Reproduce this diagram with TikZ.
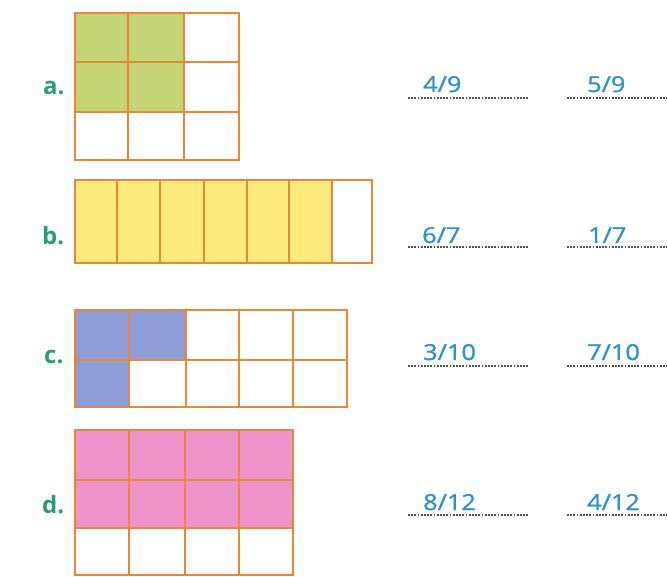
\documentclass[tikz,border=0pt]{standalone}
\usepackage{fontspec}
\setmainfont{Open Sans}
\setsansfont{Open Sans}
\newfontfamily\answerfont[FakeBold=1.2]{Open Sans}
\definecolor{gridline}{RGB}{232,135,58}
\definecolor{fgreen}{RGB}{196,212,118}
\definecolor{fyellow}{RGB}{255,234,125}
\definecolor{fblue}{RGB}{142,156,216}
\definecolor{fpink}{RGB}{238,146,202}
\definecolor{labelc}{RGB}{42,156,122}
\definecolor{answerc}{RGB}{48,146,205}
\definecolor{dotc}{RGB}{80,80,80}
\tikzset{
  gridl/.style={draw=gridline, line width=2.6pt, line cap=rect},
  rowlabel/.style={anchor=base west, inner sep=0pt, text=labelc, font=\fontsize{24}{28}\selectfont\bfseries},
  answer/.style={anchor=base west, inner sep=0pt, text=answerc, font=\answerfont\fontsize{22}{25}\selectfont},
  dotline/.style={draw=dotc, line width=1.8pt, dash pattern=on 1.8pt off 1.4pt}
}
\begin{document}
\begin{tikzpicture}[x=1pt,y=-1pt]
\useasboundingbox (0,0) rectangle (667,577);
\fill[white] (0,0) rectangle (667,577);

% ---- grid a ----
\fill[fgreen] (75,13) rectangle (184,112);
\draw[gridl] (75,13) rectangle (239,160);
\foreach \x in {128,184} \draw[gridl] (\x,13) -- (\x,160);
\foreach \y in {62,112} \draw[gridl] (75,\y) -- (239,\y);

% ---- grid b ----
\fill[fyellow] (75,180) rectangle (332,263);
\draw[gridl] (75,180) rectangle (372,263);
\foreach \x in {117,160,204,247,289,332} \draw[gridl] (\x,180) -- (\x,263);

% ---- grid c ----
\fill[fblue] (75,310) rectangle (186,360);
\fill[fblue] (75,360) rectangle (129,407);
\draw[gridl] (75,310) rectangle (347,407);
\foreach \x in {129,186,239,293} \draw[gridl] (\x,310) -- (\x,407);
\draw[gridl] (75,360) -- (347,360);

% ---- grid d ----
\fill[fpink] (75,430) rectangle (293,528);
\draw[gridl] (75,430) rectangle (293,575);
\foreach \x in {129,185,239} \draw[gridl] (\x,430) -- (\x,575);
\foreach \y in {480,528} \draw[gridl] (75,\y) -- (293,\y);

% ---- row labels ----
\node[rowlabel] (la) at (43,95) {a.};
\node[rowlabel] (lb) at (42,245) {b.};
\node[rowlabel] (lc) at (44,363) {c.};
\node[rowlabel] (ld) at (42,513) {d.};

% ---- answer lines ----
\foreach \r/\y in {a/98,b/247,c/366,d/515}{
  \coordinate (\r1s) at (408,\y);
  \coordinate (\r1e) at (528,\y);
  \coordinate (\r2s) at (567,\y);
  \coordinate (\r2e) at (667,\y);
  \draw[dotline] (\r1s) -- (\r1e);
  \draw[dotline] (\r2s) -- (\r2e);
}

% ---- answers ----
\node[answer] (aa1) at (423,92) {\scalebox{1.15}[1]{4/9}};
\node[answer] (aa2) at (587,92) {\scalebox{1.15}[1]{5/9}};
\node[answer] (ab1) at (422,243) {\scalebox{1.15}[1]{6/7}};
\node[answer] (ab2) at (588,243) {\scalebox{1.15}[1]{1/7}};
\node[answer] (ac1) at (423,360) {\scalebox{1.15}[1]{3/10}};
\node[answer] (ac2) at (587,360) {\scalebox{1.15}[1]{7/10}};
\node[answer] (ad1) at (423,510) {\scalebox{1.15}[1]{8/12}};
\node[answer] (ad2) at (587,510) {\scalebox{1.15}[1]{4/12}};
\end{tikzpicture}
\end{document}
